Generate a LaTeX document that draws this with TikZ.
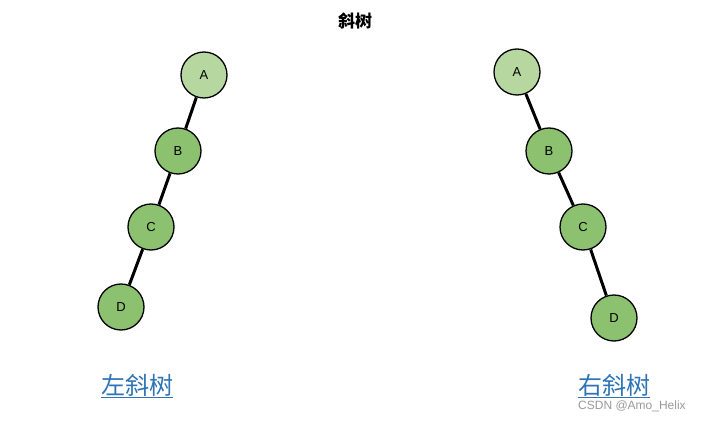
\documentclass[tikz,border=0pt]{standalone}
\usepackage{fontspec}
\setmainfont{Liberation Sans}
\newfontfamily\cjk{Noto Sans CJK SC}
\definecolor{lg}{HTML}{B6D7A0}
\definecolor{dg}{HTML}{8CC170}
\definecolor{lk}{HTML}{2E74B5}
\tikzset{nd/.style={circle,draw=black,line width=1.3pt,fill=dg,minimum size=46pt,inner sep=0pt,font=\fontsize{13}{13}\selectfont},
ed/.style={line width=3pt},
lab/.style={font=\cjk\fontsize{24}{24}\selectfont,text=lk}}
\begin{document}
\begin{tikzpicture}[x=1pt,y=-1pt]
\useasboundingbox[fill=white] (0,0) rectangle (713,422);
\node[font=\cjk\bfseries\fontsize{17}{17}\selectfont] (t) at (355,21) {斜树};
\node[nd,fill=lg] (la) at (204,75) {A};
\node[nd] (lb) at (178,151) {B};
\node[nd] (lc) at (151,227) {C};
\node[nd] (ld) at (121,307) {D};
\draw[ed] (la)--(lb) (lb)--(lc) (lc)--(ld);
\node[nd,fill=lg] (ra) at (517,72) {A};
\node[nd] (rb) at (549,151) {B};
\node[nd] (rc) at (583,227) {C};
\node[nd] (rd) at (614,318) {D};
\draw[ed] (ra)--(rb) (rb)--(rc) (rc)--(rd);
\node[lab] (ll) at (137,386) {\underline{左斜树}};
\node[lab] (rl) at (614,386) {\underline{右斜树}};
\node[text=gray!80,font=\fontsize{12}{12}\selectfont] (wm) at (632,406) {CSDN @Amo\_Helix};
\end{tikzpicture}
\end{document}
